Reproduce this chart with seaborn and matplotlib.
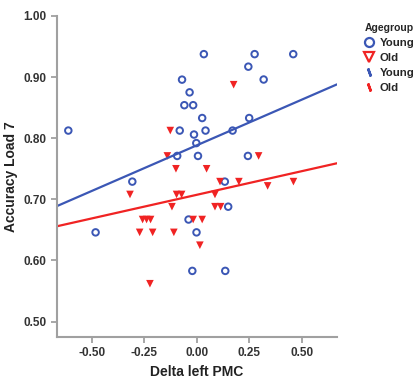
import pandas as pd
import matplotlib
matplotlib.use("Agg")
import matplotlib.pyplot as plt
from matplotlib.lines import Line2D
import seaborn as sns

# Young group (Delta left PMC, Accuracy Load 7)
young_x = [-0.613, 0.033, -0.071, -0.035, -0.060, -0.018, 0.025, -0.082, 0.041, -0.014,
           -0.003, -0.094, 0.005, -0.308, 0.275, 0.459, 0.245, 0.318, 0.249, 0.170,
           0.243, 0.133, -0.483, -0.040, -0.002, -0.022, 0.149, 0.135]
young_y = [0.8125, 0.9375, 0.8958, 0.875, 0.854, 0.854, 0.833, 0.8125, 0.8125, 0.806,
           0.792, 0.771, 0.771, 0.729, 0.9375, 0.9375, 0.917, 0.896, 0.833, 0.8125,
           0.771, 0.729, 0.646, 0.667, 0.646, 0.583, 0.688, 0.583]

# Old group
old_x = [-0.127, -0.141, -0.100, 0.046, 0.175, 0.294, 0.110, 0.200, 0.337, 0.460,
         -0.319, -0.097, -0.073, -0.119, -0.259, -0.240, -0.221, -0.273, -0.211, -0.110,
         -0.224, -0.018, 0.025, 0.014, 0.086, 0.086, 0.113]
old_y = [0.8125, 0.771, 0.750, 0.750, 0.8875, 0.771, 0.729, 0.729, 0.722, 0.729,
         0.708, 0.708, 0.708, 0.688, 0.667, 0.667, 0.667, 0.646, 0.646, 0.646,
         0.562, 0.667, 0.667, 0.625, 0.708, 0.688, 0.688]

# fit lines (value at the left and right edge of the axis)
fit_x = [-0.667, 0.667]
fit_young = [0.689, 0.888]
fit_old = [0.656, 0.759]

colors = {"Young": "#3b57b5", "Old": "#f02323"}
x_ticks = [-0.50, -0.25, 0.00, 0.25, 0.50]
y_ticks = [0.50, 0.60, 0.70, 0.80, 0.90, 1.00]

df = pd.DataFrame({
    "Delta left PMC": young_x + old_x,
    "Accuracy Load 7": young_y + old_y,
    "Agegroup": ["Young"] * len(young_x) + ["Old"] * len(old_x),
})
fits = pd.DataFrame({
    "x": fit_x * 2,
    "y": fit_young + fit_old,
    "Agegroup": ["Young"] * 2 + ["Old"] * 2,
})

sns.set_style("ticks")
plt.rcParams["font.family"] = ["Liberation Sans", "DejaVu Sans"]
plt.rcParams["font.weight"] = "bold"

fig = plt.figure(figsize=(4.19, 3.79), dpi=100)
ax = fig.add_axes([0.136, 0.111, 0.668, 0.847])

yg = df[df["Agegroup"] == "Young"]
og = df[df["Agegroup"] == "Old"]

sns.scatterplot(data=yg, x="Delta left PMC", y="Accuracy Load 7", ax=ax,
                marker="o", s=22, facecolor="none", edgecolor=colors["Young"],
                linewidth=1.4, legend=False)
sns.scatterplot(data=og, x="Delta left PMC", y="Accuracy Load 7", ax=ax,
                marker="v", s=30, color=colors["Old"], edgecolor="none",
                legend=False)
sns.lineplot(data=fits, x="x", y="y", hue="Agegroup", palette=colors,
             lw=1.6, legend=False, ax=ax)

ax.set_xlim(-0.667, 0.667)
ax.set_ylim(0.475, 1.0)
ax.set_xticks(x_ticks)
ax.set_xticklabels([f"{v:.2f}" for v in x_ticks])
ax.set_yticks(y_ticks)
ax.set_yticklabels([f"{v:.2f}" for v in y_ticks])

for s in ["top", "right"]:
    ax.spines[s].set_visible(False)
for s in ["left", "bottom"]:
    ax.spines[s].set_color("#a0a0a0")
    ax.spines[s].set_linewidth(1.5)
ax.tick_params(colors="#a0a0a0", labelcolor="#333333", labelsize=8.5, length=4, width=1.3)

ax.set_xlabel("Delta left PMC", fontsize=10, fontweight="bold", color="#222222")
ax.set_ylabel("Accuracy Load 7", fontsize=10, fontweight="bold", color="#222222")

handles = [
    Line2D([], [], ls="none", marker="o", markersize=6.5, mfc="none",
           mec=colors["Young"], mew=1.6),
    Line2D([], [], ls="none", marker="v", markersize=7, mfc="none",
           mec=colors["Old"], mew=1.6),
    Line2D([], [], ls="none", marker=(2, 2, 20), markersize=6,
           mec=colors["Young"], mew=1.8),
    Line2D([], [], ls="none", marker=(2, 2, 20), markersize=6,
           mec=colors["Old"], mew=1.8),
]
leg = ax.legend(handles, ["Young", "Old", "Young", "Old"], title="Agegroup",
                loc="upper left", bbox_to_anchor=(0.857, 0.955),
                bbox_transform=fig.transFigure, frameon=False,
                fontsize=8.2, title_fontsize=7.5, handlelength=0.8,
                handletextpad=0.5, labelspacing=0.45, borderpad=0)
leg.get_title().set_fontweight("bold")
leg._legend_box.align = "left"

fig.savefig("out.png", dpi=100)
